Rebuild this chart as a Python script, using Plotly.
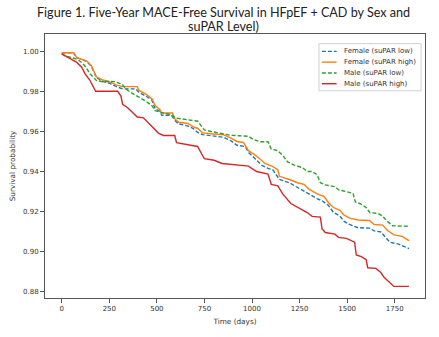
import plotly.graph_objects as go

# ---------------- data ----------------
female_low_days = [0, 62, 79, 130, 156, 173, 182, 217, 251, 285, 320, 388, 405, 440, 474, 491, 517, 526, 577, 594,
                   611, 663, 689, 715, 740, 784, 852, 887, 921, 964, 981, 1007, 1050, 1084, 1110, 1144, 1196, 1239, 1273, 1299,
                   1342, 1368, 1402, 1428, 1462, 1484, 1507, 1557, 1617, 1642, 1677, 1698, 1724, 1771, 1806, 1825]
female_low_surv = [0.9994, 0.9994, 0.9970, 0.9952, 0.9926, 0.9887, 0.9871, 0.9850, 0.9842, 0.9826,
                   0.9814, 0.9814, 0.9797, 0.9779, 0.9758, 0.9713, 0.9702, 0.9682, 0.9682, 0.9658,
                   0.9640, 0.9628, 0.9617, 0.9596, 0.9585, 0.9580, 0.9572, 0.9556, 0.9532, 0.9526,
                   0.9497, 0.9473, 0.9433, 0.9417, 0.9409, 0.9361, 0.9345, 0.9321, 0.9304, 0.9289,
                   0.9265, 0.9255, 0.9231, 0.9197, 0.9178, 0.9152, 0.9139, 0.9120, 0.9118, 0.9104,
                   0.9099, 0.9077, 0.9048, 0.9038, 0.9024, 0.9016]

female_high_days = [0, 62, 79, 130, 156, 173, 182, 217, 251, 285, 320, 397, 405, 440, 474, 491, 517, 526, 582, 594,
                    615, 663, 689, 715, 740, 784, 852, 887, 921, 955, 981, 1007, 1041, 1067, 1110, 1136, 1144, 1196, 1239, 1273,
                    1299, 1342, 1378, 1402, 1428, 1462, 1484, 1514, 1557, 1617, 1642, 1686, 1712, 1746, 1789, 1825]
female_high_surv = [0.9994, 0.9994, 0.9970, 0.9954, 0.9930, 0.9890, 0.9874, 0.9858, 0.9850, 0.9834,
                    0.9825, 0.9825, 0.9806, 0.9789, 0.9765, 0.9731, 0.9709, 0.9693, 0.9693, 0.9665,
                    0.9647, 0.9641, 0.9625, 0.9616, 0.9594, 0.9590, 0.9584, 0.9569, 0.9551, 0.9546,
                    0.9505, 0.9489, 0.9465, 0.9441, 0.9425, 0.9409, 0.9377, 0.9361, 0.9345, 0.9337,
                    0.9313, 0.9289, 0.9277, 0.9245, 0.9221, 0.9207, 0.9183, 0.9168, 0.9159, 0.9156,
                    0.9136, 0.9133, 0.9106, 0.9084, 0.9077, 0.9056]

male_low_days = [0, 19, 53, 79, 105, 122, 139, 147, 165, 182, 208, 285, 320, 337, 363, 397, 423, 440, 474, 491,
                 526, 577, 594, 629, 680, 715, 732, 749, 784, 835, 887, 981, 1007, 1041, 1084, 1101, 1136, 1162, 1187, 1222,
                 1265, 1290, 1316, 1342, 1359, 1385, 1436, 1454, 1488, 1531, 1543, 1569, 1600, 1620, 1660, 1686, 1711, 1739, 1825]
male_low_surv = [0.9989, 0.9978, 0.9970, 0.9962, 0.9946, 0.9928, 0.9904, 0.9890, 0.9873, 0.9856,
                 0.9851, 0.9850, 0.9834, 0.9813, 0.9796, 0.9778, 0.9761, 0.9753, 0.9730, 0.9705,
                 0.9695, 0.9685, 0.9669, 0.9664, 0.9659, 0.9652, 0.9630, 0.9609, 0.9601, 0.9592,
                 0.9582, 0.9577, 0.9561, 0.9550, 0.9550, 0.9513, 0.9505, 0.9481, 0.9449, 0.9433,
                 0.9420, 0.9401, 0.9401, 0.9385, 0.9345, 0.9334, 0.9325, 0.9310, 0.9303, 0.9292,
                 0.9249, 0.9240, 0.9221, 0.9195, 0.9192, 0.9178, 0.9152, 0.9130, 0.9127]

male_high_days = [0, 79, 105, 122, 147, 165, 178, 294, 311, 320, 345, 371, 397, 429, 474, 508, 534, 594, 603, 689,
                  714, 740, 749, 801, 843, 981, 1024, 1084, 1101, 1136, 1161, 1204, 1256, 1290, 1316, 1359, 1368, 1385, 1436, 1454,
                  1496, 1539, 1548, 1574, 1600, 1608, 1651, 1677, 1694, 1720, 1745, 1825]
male_high_surv = [0.9989, 0.9946, 0.9922, 0.9890, 0.9858, 0.9826, 0.9802, 0.9802, 0.9778, 0.9737,
                  0.9721, 0.9697, 0.9673, 0.9669, 0.9625, 0.9593, 0.9581, 0.9581, 0.9545, 0.9529,
                  0.9526, 0.9481, 0.9465, 0.9457, 0.9441, 0.9428, 0.9401, 0.9388, 0.9337, 0.9329,
                  0.9289, 0.9241, 0.9216, 0.9196, 0.9177, 0.9173, 0.9115, 0.9096, 0.9088, 0.9072,
                  0.9067, 0.9048, 0.8984, 0.8976, 0.8960, 0.8920, 0.8917, 0.8896, 0.8872, 0.8848,
                  0.8827, 0.8827]

series_names = ["Female (suPAR low)", "Female (suPAR high)", "Male (suPAR low)", "Male (suPAR high)"]
x_ticks = [0, 250, 500, 750, 1000, 1250, 1500, 1750]
y_ticks = [0.88, 0.90, 0.92, 0.94, 0.96, 0.98, 1.00]
title_lines = ["Figure 1. Five-Year MACE-Free Survival in HFpEF + CAD by Sex and", "suPAR Level)"]

# ---------------- styling ----------------
colors = ["#1f77b4", "#ff7f0e", "#2ca02c", "#d62728"]
dashes = ["4px,2px", "solid", "4px,2px", "solid"]
W, H = 439, 337
L, R, T, B = 38, 425, 34, 308  # plot area in pixels

def px(xp):
    return (xp - L) / (R - L)

def py(yp):
    return (B - yp) / (B - T)

fig = go.Figure()
all_days = [female_low_days, female_high_days, male_low_days, male_high_days]
all_surv = [female_low_surv, female_high_surv, male_low_surv, male_high_surv]
for name, d, s, c, ds in zip(series_names, all_days, all_surv, colors, dashes):
    fig.add_trace(go.Scatter(x=d, y=s, mode="lines", name=name, showlegend=False,
                             line=dict(color=c, width=1.4, dash=ds)))

tick_font = dict(family="DejaVu Sans", size=7, color="#333")
axis_common = dict(showline=True, linecolor="#555", linewidth=1, mirror=True,
                   ticks="outside", ticklen=4, tickcolor="#555", tickwidth=1,
                   showgrid=False, zeroline=False, tickfont=tick_font)

fig.update_layout(
    width=W, height=H,
    margin=dict(l=L, r=W - R, t=T, b=H - B, pad=0),
    paper_bgcolor="white", plot_bgcolor="white",
    xaxis=dict(range=[-88, 1909], tickvals=x_ticks, ticktext=[str(v) for v in x_ticks],
               title=dict(text="Time (days)", font=dict(family="DejaVu Sans", size=7.3, color="#333"), standoff=6),
               **axis_common),
    yaxis=dict(range=[0.8769, 1.0088], tickvals=y_ticks, ticktext=[f"{v:.2f}" for v in y_ticks],
               title=dict(text="Survival probability", font=dict(family="DejaVu Sans", size=7.3, color="#333"), standoff=6),
               **axis_common),
)

# title (two lines)
for txt, ypix in zip(title_lines, [12, 26.5]):
    fig.add_annotation(text=txt, xref="paper", yref="paper", x=px(219.5), y=py(ypix),
                       xanchor="center", yanchor="middle", showarrow=False,
                       font=dict(family="Lato", size=12.6, color="#222"))

# legend (drawn manually)
fig.add_shape(type="rect", xref="paper", yref="paper",
              x0=px(317), x1=px(421), y0=py(93), y1=py(44),
              line=dict(color="#d0d0d0", width=1), fillcolor="rgba(255,255,255,0.85)")
for i, (name, c, ds) in enumerate(zip(series_names, colors, dashes)):
    ypix = 52 + i * 11.2
    fig.add_shape(type="line", xref="paper", yref="paper",
                  x0=px(320), x1=px(335), y0=py(ypix), y1=py(ypix),
                  line=dict(color=c, width=1.4, dash=ds))
    fig.add_annotation(text=name, xref="paper", yref="paper", x=px(340), y=py(ypix),
                       xanchor="left", yanchor="middle", showarrow=False,
                       font=dict(family="DejaVu Sans", size=7, color="#333"))

fig.write_html("out.html")
